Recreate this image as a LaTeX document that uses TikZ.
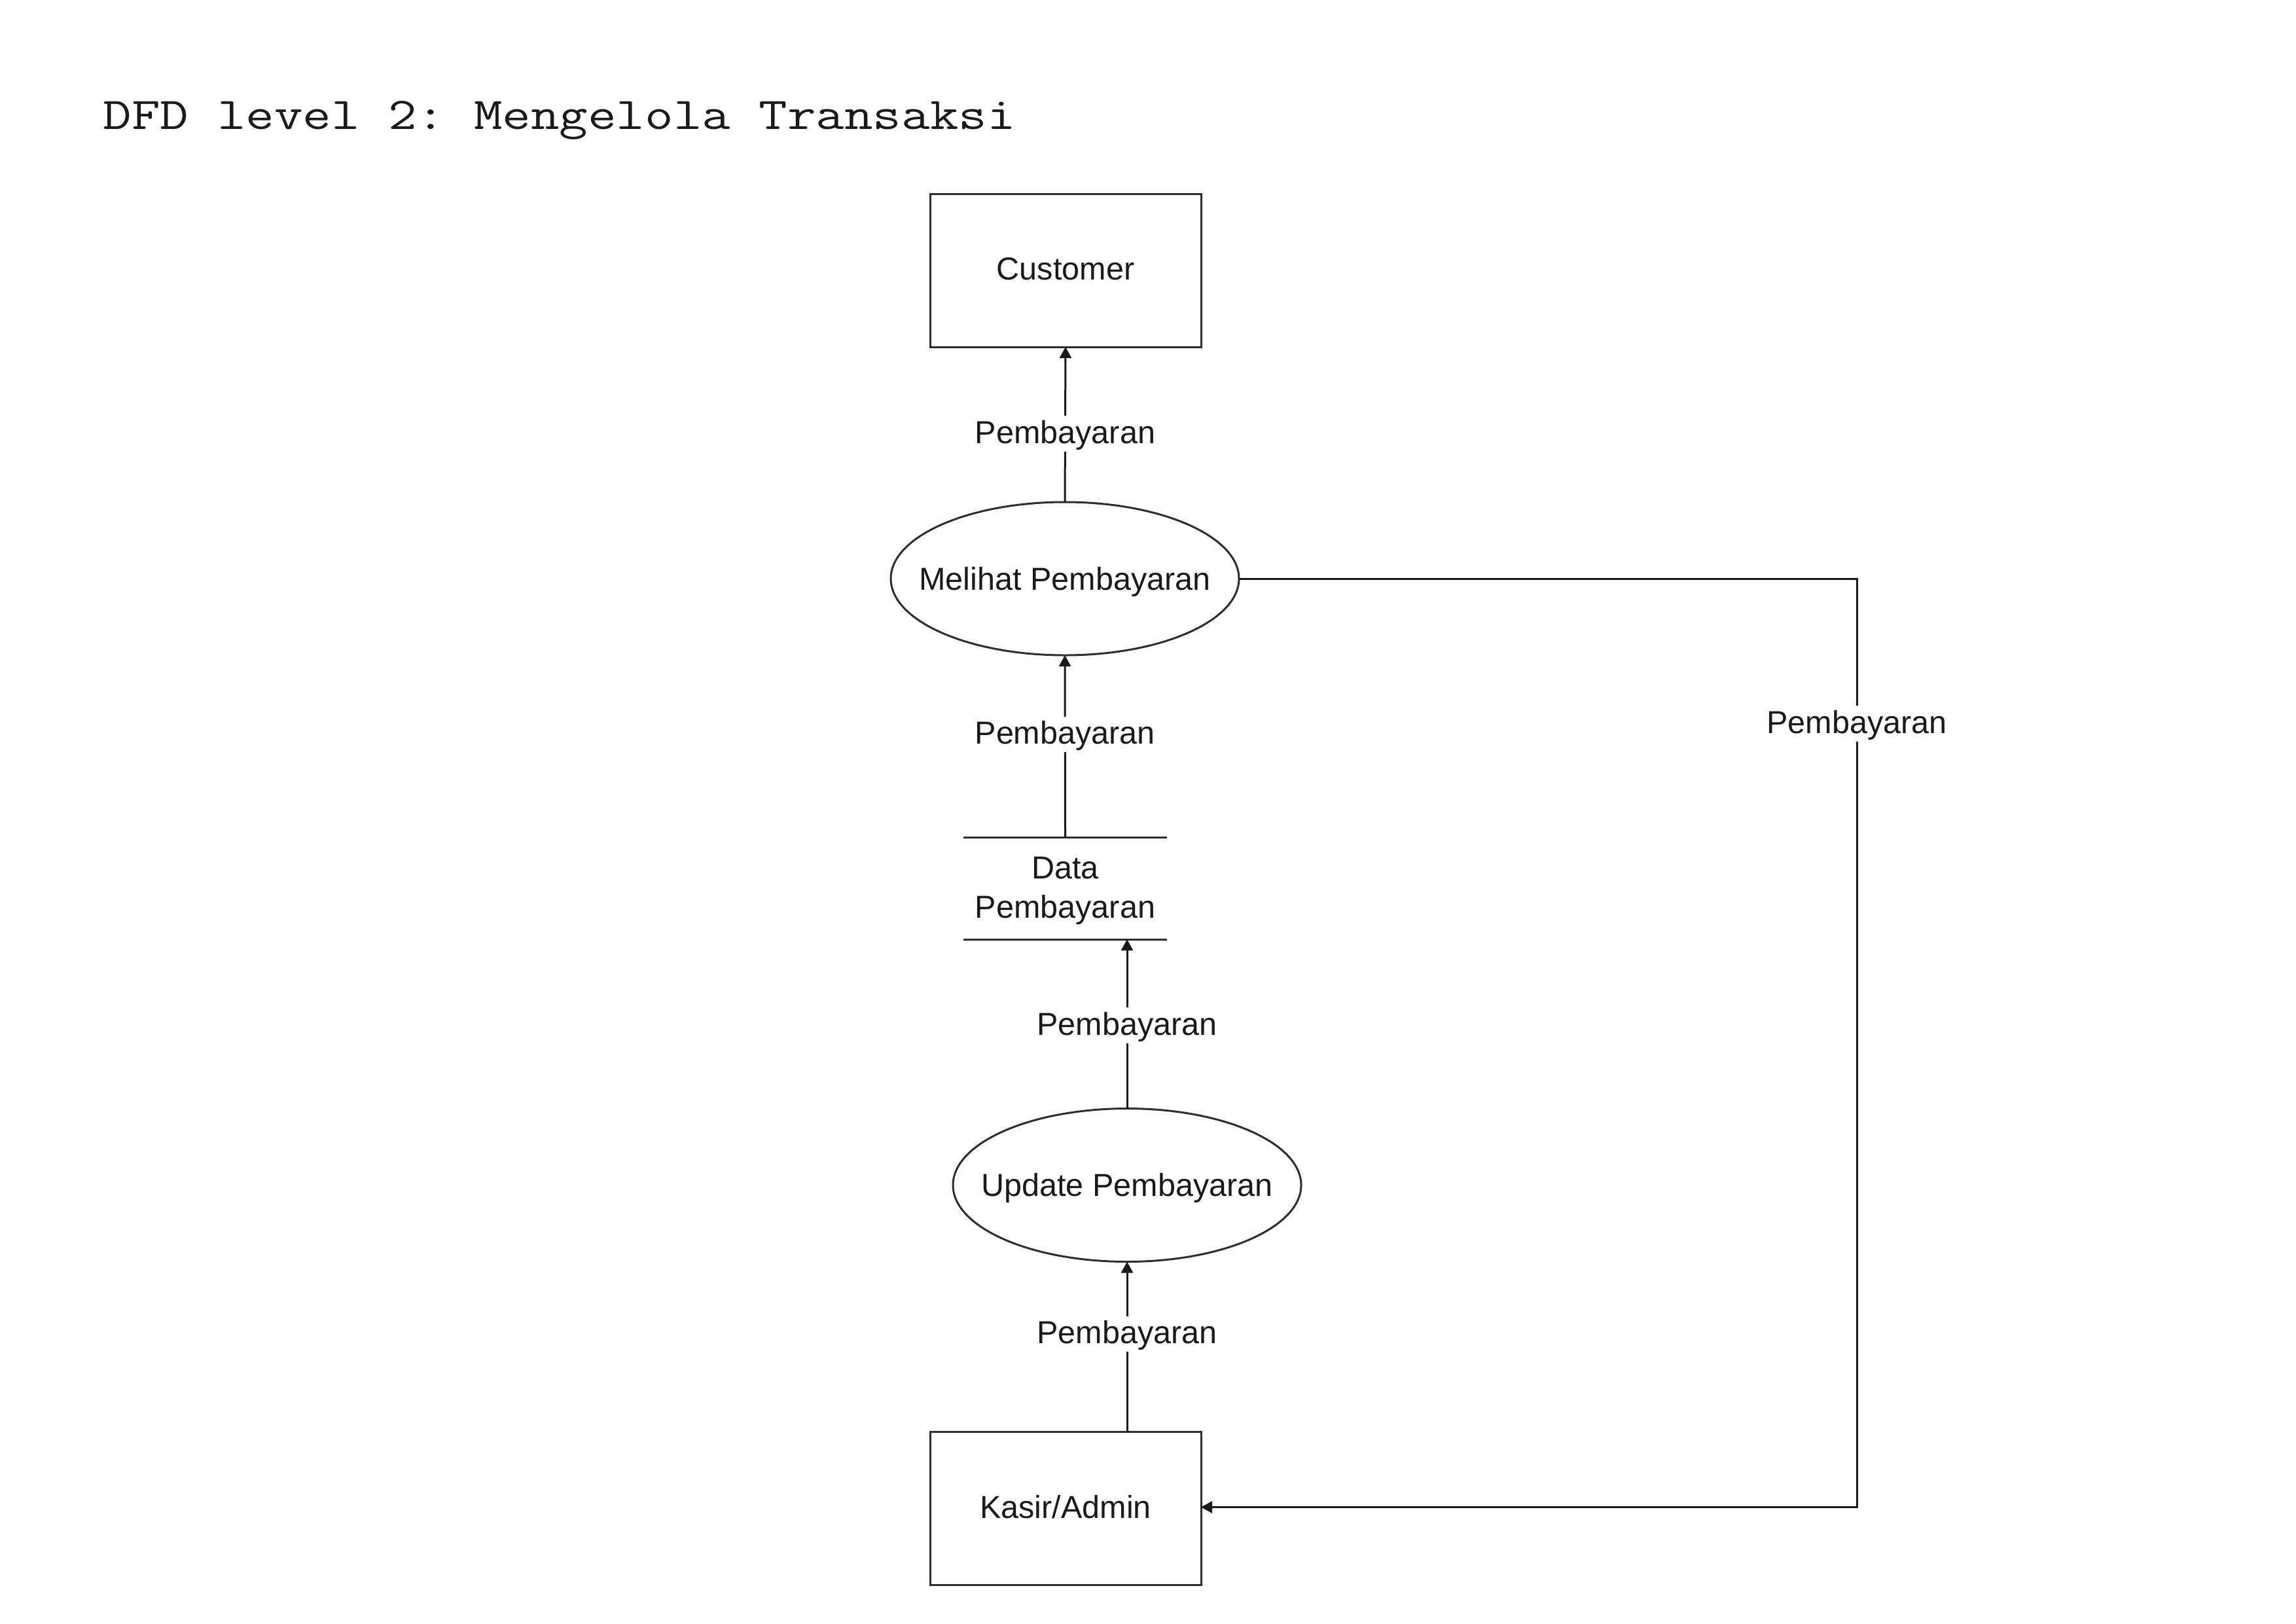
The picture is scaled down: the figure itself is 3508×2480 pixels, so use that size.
\documentclass[tikz,border=0pt]{standalone}
\usepackage{fontspec}
\setmainfont{Liberation Sans}
\newfontfamily\titlefont[FakeStretch=1.223]{Latin Modern Mono}
\usetikzlibrary{shapes.geometric,arrows.meta}
\definecolor{ink}{HTML}{1A1A1A}
\definecolor{edge}{HTML}{2E2E2E}
\frenchspacing
\tikzset{
  x=0.24pt, y=-0.24pt,
  every node/.style={font=\fontsize{11.65pt}{14.4pt}\selectfont, text=ink},
  entity/.style={draw=edge, line width=0.72pt, rectangle, minimum width=99.36pt, minimum height=56.16pt, inner sep=0pt, outer sep=0pt, text height=0.716em, text depth=0pt},
  proc/.style={draw=edge, line width=0.72pt, ellipse, minimum width=127.68pt, minimum height=56.16pt, inner sep=0pt, outer sep=0pt, text height=0.716em, text depth=0pt},
  storebox/.style={rectangle, minimum width=74.64pt, minimum height=37.44pt, inner sep=0pt, outer sep=0pt},
  storetext/.style={inner sep=0pt, align=center},
  storeline/.style={draw=edge, line width=0.72pt},
  flow/.style={draw=ink, line width=0.72pt, -{Triangle[length=4.1pt,width=4.3pt]}},
  lbl/.style={fill=white, inner xsep=1pt, inner ysep=3pt, text height=0.716em, text depth=0pt}
}
\begin{document}
\begin{tikzpicture}
\useasboundingbox (0,0) rectangle (3508,2480);
\node[anchor=base west, inner sep=0pt, font=\titlefont\fontsize{16.6pt}{20pt}\selectfont] (title) at (157,197) {DFD level 2: Mengelola Transaksi};

\node[entity] (cust) at (1628,413) {Customer};
\node[proc] (mel) at (1627,884) {\makebox[0pt][c]{\raisebox{-0.6pt}{Melihat Pembayaran}}};
\node[storebox] (store) at (1627.5,1357) {};
\node[storetext] (storetxt) at (1627.5,1361) {Data\\Pembayaran};
\draw[storeline] (store.north west) -- (store.north east);
\draw[storeline] (store.south west) -- (store.south east);
\node[proc] (upd) at (1722,1810.5) {\makebox[0pt][c]{\raisebox{-0.6pt}{Update Pembayaran}}};
\node[entity] (kasir) at (1628,2304.5) {Kasir/Admin};
\coordinate (rc) at (2837,2302.5);

\draw[flow] (mel.north) -- node[lbl,pos=0.44]{Pembayaran} (cust.south);
\draw[flow] (store.north) -- node[lbl,pos=0.565]{Pembayaran} (mel.south);
\draw[flow] (upd.north) -- node[lbl,pos=0.49]{Pembayaran} (store.south -| upd.north);
\draw[flow] (kasir.north -| upd.south) -- node[lbl,pos=0.575]{Pembayaran} (upd.south);
\draw[flow] (mel.east) -| node[lbl,pos=0.578]{Pembayaran} (rc) -- (kasir.east |- rc);
\end{tikzpicture}
\end{document}
